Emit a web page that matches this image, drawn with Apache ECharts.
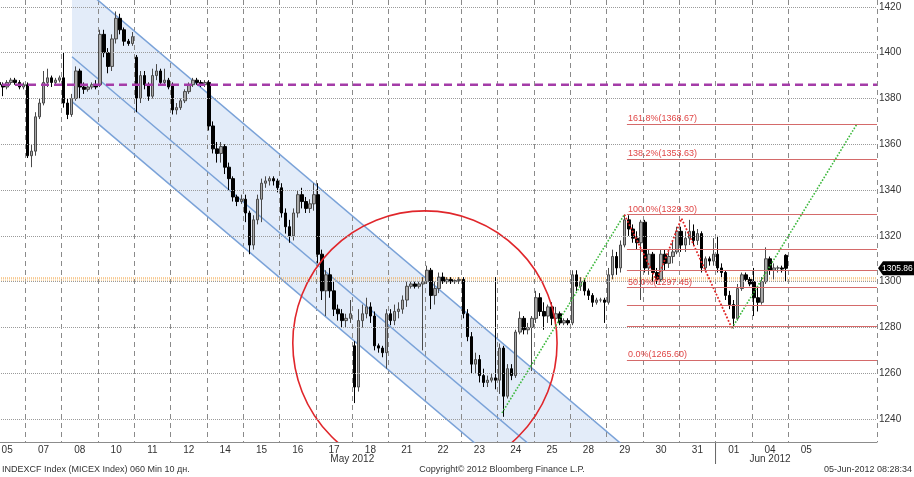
<!DOCTYPE html>
<html><head><meta charset="utf-8">
<script src="https://cdn.jsdelivr.net/npm/echarts/dist/echarts.min.js"></script>
<style>html,body{margin:0;padding:0;background:#fff}#c{width:914px;height:477px}</style>
</head><body><div id="c"></div>
<script>
// ---------- DATA ----------
const dayLabels = ['05','07','08','10','11','12','14','15','16','17','18','21','22','23','24','25','28','29','30','31','01','04','05'];
const barsPerDay = 9;
const totalSlots = 220;
// hourly bars: [open, close, low, high]
const bars = [
 // May 05
 [1387,1386,1385,1388],[1386,1387,1385,1388],[1387,1386,1385,1388],[1386,1385,1381,1387],[1385,1387,1384,1388],[1387,1388,1386,1389],[1388,1387,1386,1389],[1387,1385,1384,1388],[1385,1386,1384,1387],
 // May 07
 [1386,1355,1354,1387],[1355,1357,1350,1360],[1357,1372,1355,1374],[1372,1378,1371,1380],[1378,1387,1377,1392],[1387,1389,1385,1393],[1389,1387,1385,1390],[1387,1388,1386,1389],[1388,1389,1387,1390],
 // May 08
 [1389,1378,1376,1400],[1378,1373,1371,1380],[1373,1380,1372,1382],[1380,1392,1379,1394],[1392,1385,1380,1393],[1385,1384,1382,1387],[1384,1385,1383,1386],[1385,1386,1384,1387],[1386,1385,1384,1388],
 // May 10
 [1386,1408,1385,1410],[1408,1400,1398,1410],[1400,1394,1391,1402],[1394,1406,1392,1408],[1406,1415,1404,1418],[1415,1410,1408,1417],[1410,1405,1403,1411],[1405,1404,1403,1406],[1404,1407,1403,1409],
 // May 11
 [1398,1380,1374,1399],[1380,1390,1378,1392],[1390,1386,1384,1392],[1386,1381,1379,1387],[1381,1390,1380,1393],[1390,1392,1388,1395],[1392,1387,1386,1393],[1387,1388,1386,1393],[1388,1385,1384,1389],
 // May 12
 [1386,1375,1373,1387],[1375,1376,1373,1378],[1376,1379,1375,1380],[1379,1383,1378,1384],[1383,1386,1382,1387],[1386,1388,1385,1389],[1388,1387,1386,1389],[1387,1386,1385,1388],[1386,1387,1385,1388],
 // May 14
 [1387,1368,1366,1388],[1368,1358,1356,1370],[1358,1356,1352,1361],[1356,1359,1352,1361],[1359,1350,1347,1360],[1350,1345,1340,1352],[1345,1337,1335,1346],[1337,1335,1333,1338],[1335,1336,1334,1338],
 // May 15
 [1336,1330,1326,1338],[1330,1316,1312,1331],[1316,1327,1314,1329],[1327,1336,1325,1338],[1336,1343,1326,1345],[1343,1344,1341,1346],[1344,1345,1342,1346],[1345,1344,1342,1346],[1344,1341,1339,1345],
 // May 16
 [1341,1330,1328,1343],[1330,1324,1321,1332],[1324,1320,1317,1327],[1320,1330,1318,1332],[1330,1338,1328,1340],[1338,1335,1332,1341],[1335,1332,1330,1337],[1332,1334,1330,1336],[1334,1338,1331,1343],
 // May 17
 [1338,1312,1308,1343],[1312,1296,1292,1314],[1296,1303,1285,1305],[1303,1296,1293,1306],[1296,1288,1285,1300],[1288,1286,1283,1290],[1286,1283,1280,1288],[1283,1284,1280,1286],[1284,1286,1282,1292],
 // May 18
 [1272,1254,1247,1274],[1254,1283,1252,1288],[1283,1286,1280,1290],[1286,1289,1284,1293],[1289,1285,1282,1291],[1285,1272,1270,1287],[1272,1271,1269,1273],[1271,1269,1267,1272],[1269,1286,1262,1288],
 // May 21
 [1286,1283,1281,1288],[1283,1287,1281,1290],[1287,1288,1284,1291],[1288,1292,1286,1294],[1292,1298,1289,1300],[1298,1299,1297,1300],[1299,1298,1297,1300],[1298,1299,1297,1300],[1299,1300,1270,1302],
 // May 22
 [1300,1305,1299,1307],[1305,1294,1288,1306],[1294,1297,1290,1300],[1297,1302,1295,1304],[1302,1300,1299,1304],[1300,1301,1299,1302],[1301,1300,1299,1302],[1300,1300.5,1299,1301],[1300.5,1301,1299,1302],
 // May 23
 [1301,1286,1284,1302],[1286,1276,1274,1288],[1276,1264,1260,1278],[1264,1266,1260,1269],[1266,1259,1256,1268],[1259,1256,1254,1262],[1256,1257,1254,1259],[1257,1258,1256,1260],[1258,1257,1253,1302],
 // May 24
 [1257,1271,1251,1273],[1271,1250,1241,1272],[1250,1262,1249,1264],[1262,1259,1257,1264],[1259,1278,1258,1279],[1278,1284,1277,1287],[1284,1279,1277,1285],[1279,1280,1277,1282],[1280,1284,1261,1285],
 // May 25
 [1284,1293,1282,1296],[1293,1287,1285,1295],[1287,1285,1279,1291],[1285,1289,1282,1290],[1289,1284,1281,1291],[1284,1286,1282,1289],[1286,1282,1281,1287],[1282,1283,1281,1284],[1283,1282,1281,1284],
 // May 28
 [1282,1303,1281,1305],[1303,1298,1296,1305],[1298,1300,1296,1302],[1300,1296,1294,1301],[1296,1294,1292,1297],[1294,1291,1289,1295],[1291,1292,1290,1293],[1292,1292,1291,1293],[1292,1291,1282,1293],
 // May 29
 [1291,1303,1290,1306],[1303,1311,1301,1314],[1311,1306,1303,1313],[1306,1316,1304,1318],[1316,1327,1315,1329.3],[1327,1323,1320,1329],[1323,1319,1317,1325],[1319,1317,1314,1322],[1317,1326,1292,1327],
 // May 30
 [1326,1306,1304,1327],[1306,1312,1303,1314],[1312,1304,1300,1313],[1304,1301,1299,1306],[1301,1312,1300,1314],[1312,1308,1305,1314],[1308,1311,1306,1313],[1311,1313,1308,1318],[1313,1322,1312,1324],
 // May 31
 [1322,1316,1313,1324],[1316,1319,1313,1322],[1319,1322,1316,1327],[1322,1318,1316,1325],[1318,1321,1316,1323],[1321,1306,1304,1322],[1306,1310,1305,1311],[1310,1309,1307,1311],[1309,1312,1307,1319],
 // Jun 01
 [1312,1306,1304,1320],[1306,1304,1302,1308],[1304,1294,1292,1305],[1294,1290,1288,1296],[1290,1284,1279.6,1292],[1284,1297,1283,1299],[1297,1303,1296,1304],[1303,1301,1300,1304],[1301,1299,1298,1302],
 // Jun 04
 [1300,1293,1285,1306],[1293,1291,1287,1298],[1291,1300,1290,1302],[1300,1310,1299,1315],[1310,1305,1303,1311],[1305,1306,1301,1308],[1306,1306,1304,1307],[1306,1305.5,1304,1307],[1311.5,1305.86,1300,1312]
];
const priceTicks = [1240,1260,1280,1300,1320,1340,1360,1380,1400,1420];
const lastPrice = 1305.86;
const purpleLevel = 1386;
const orangeLevels = [1301.6, 1300.7];
const fibPercents = [0, 23.6, 38.2, 50, 61.8, 76.4, 100, 138.2, 161.8];
const fibValues   = [1265.60, 1280.63, 1289.93, 1297.45, 1304.97, 1314.27, 1329.30, 1353.63, 1368.67];
const fibLabeled  = [true, false, false, true, false, false, true, true, true];
const fibStartDay = 17.56;
// annotation geometry in (day, price)
const channelUpper  = [[2.285, 1432.5], [19.5, 1201.0]];
const channelMiddle = [[2.285, 1398.2], [19.5, 1166.7]];
const channelLower  = [[2.285, 1378.6], [19.5, 1147.1]];
const circleDef = [12.0, 1273.2, 1330.9]; // center day, center price, top price
const greenLine1 = [[14.12, 1242.7], [17.49, 1329.3]];
const greenLine2 = [[20.45, 1279.7], [23.885, 1368.67]];
const redZigzag  = [[17.49, 1329.3], [18.375, 1300.5], [19.063, 1327.6], [20.45, 1279.7]];
const monthLabels = [['May 2012', 10.0], ['Jun 2012', 21.5]];
const monthSeparatorDay = 20;

// ---------- CHART ----------
const FONT = '"Liberation Sans", Arial, sans-serif';
const DAYMAX = totalSlots / barsPerDay;
const nLabeled = dayLabels.length * barsPerDay;
const categories = [];
for (let i = 0; i < totalSlots; i++) categories.push('D' + Math.floor(i / barsPerDay) + 'H' + (i % barsPerDay));

const chart = echarts.init(document.getElementById('c'));

function lineSeries(data, color, width, type, z) {
  return {type: 'line', xAxisIndex: 1, data: data, symbol: 'none', silent: true, z: z,
          lineStyle: {color: color, width: width, type: type}, animation: false};
}

const series = [];
// channel fill
series.push({
  type: 'custom', xAxisIndex: 1, z: 1, clip: true, silent: true,
  data: [[channelUpper[0][0], channelUpper[0][1]]],
  renderItem: function (p, api) {
    const pts = [channelUpper[0], channelUpper[1], channelLower[1], channelLower[0]].map(q => api.coord(q));
    return {type: 'polygon', shape: {points: pts}, style: {fill: '#e3ecf9'}};
  }
});
// horizontal dotted grid
series.push({
  type: 'line', xAxisIndex: 1, data: [], z: 1.6, silent: true,
  markLine: {silent: true, symbol: ['none', 'none'], label: {show: false}, animation: false,
    lineStyle: {type: 'dotted', color: '#9a9a9a', width: 1},
    data: priceTicks.map(v => ({yAxis: v}))}
});
// channel lines
[channelUpper, channelMiddle, channelLower].forEach(l => series.push(lineSeries(l, '#7aa2d8', 1.5, 'solid', 2)));
// fib lines
series.push({
  type: 'line', xAxisIndex: 1, data: [], z: 2, silent: true,
  markLine: {silent: true, symbol: ['none', 'none'], animation: false,
    lineStyle: {type: 'solid', color: '#d46a6a', width: 1},
    data: fibValues.map((v, i) => [
      {coord: [fibStartDay, v], label: {show: fibLabeled[i], position: 'insideStartTop', distance: 1,
        formatter: fibPercents[i].toFixed(1) + '%(' + v.toFixed(2) + ')',
        color: '#e04848', fontSize: 9, fontFamily: FONT}},
      {coord: [DAYMAX, v]}
    ])}
});
// orange dotted
orangeLevels.forEach((v, i) => series.push(lineSeries([[0, v], [DAYMAX, v]], i ? '#f6c27a' : '#f0962a', 1, 'dotted', 2)));
// candles
series.push({
  type: 'candlestick', xAxisIndex: 0, z: 3, barWidth: 3, silent: true,
  data: bars,
  itemStyle: {color: '#a9a9a9', color0: '#000000', borderColor: '#4a4a4a', borderColor0: '#000000', borderWidth: 1}
});
// circle
series.push({
  type: 'custom', xAxisIndex: 1, z: 4, clip: true, silent: true,
  data: [circleDef],
  renderItem: function (p, api) {
    const c = api.coord([api.value(0), api.value(1)]);
    const t = api.coord([api.value(0), api.value(2)]);
    return {type: 'circle', shape: {cx: c[0], cy: c[1], r: c[1] - t[1]}, style: {fill: 'none', stroke: '#e0262b', lineWidth: 1.6}};
  }
});
// green & red dotted
series.push(lineSeries(greenLine1, '#3cb83c', 1.6, 'dotted', 4));
series.push(lineSeries(greenLine2, '#3cb83c', 1.6, 'dotted', 4));
series.push(lineSeries(redZigzag, '#e02424', 1.8, 'dotted', 4));
// purple dashed
series.push(lineSeries([[0, purpleLevel], [DAYMAX, purpleLevel]], '#a43ca8', 2.5, [8, 5], 4));
// last price tag
series.push({
  type: 'custom', xAxisIndex: 1, z: 6, clip: false, silent: true,
  data: [[DAYMAX, lastPrice]],
  renderItem: function (p, api) {
    const q = api.coord([api.value(0), api.value(1)]);
    const x0 = q[0] + 1, y = q[1], W = api.getWidth();
    return {type: 'group', children: [
      {type: 'polygon', shape: {points: [[x0, y], [x0 + 5, y - 7], [W, y - 7], [W, y + 7], [x0 + 5, y + 7]]}, style: {fill: '#000'}},
      {type: 'text', style: {text: lastPrice.toFixed(2), x: x0 + 4, y: y, fill: '#fff', font: '8.5px ' + FONT,
        align: 'left', verticalAlign: 'middle', textAlign: 'left', textVerticalAlign: 'middle'}}
    ]};
  }
});

chart.setOption({
  backgroundColor: '#ffffff',
  animation: false,
  grid: {left: -11, right: 37, top: 0, bottom: 35, containLabel: false, outerBoundsMode: 'none'},
  xAxis: [
    {type: 'category', data: categories, boundaryGap: true, z: 1.5,
     axisLine: {lineStyle: {color: '#8c8c8c', width: 1}},
     axisTick: {show: false},
     axisLabel: {interval: (i) => i % barsPerDay === 4 && i < nLabeled,
       formatter: (v, i) => dayLabels[Math.floor(i / barsPerDay)] || '',
       color: '#333', fontSize: 10, fontFamily: FONT, margin: 3},
     splitLine: {show: true, interval: (i) => i % barsPerDay === 0 && i < nLabeled,
       lineStyle: {color: '#8a8a8a', type: [5, 4], width: 1}}},
    {type: 'value', min: 0, max: DAYMAX, show: false}
  ],
  yAxis: {type: 'value', position: 'right', min: 1230, max: 1423, interval: 10,
    axisLine: {show: true, lineStyle: {color: '#555'}},
    axisTick: {show: true, length: 4, lineStyle: {color: '#555'}},
    axisLabel: {formatter: v => (v % 20 === 0 ? String(v) : ''), color: '#333', fontSize: 10, fontFamily: FONT, margin: 2},
    splitLine: {show: false}},
  series: series
});

// axis decorations computed from the chart scales
const sepX = chart.convertToPixel({xAxisIndex: 1}, monthSeparatorDay);
const axisY = chart.convertToPixel({yAxisIndex: 0}, 1230);
const graphics = [
  {type: 'line', shape: {x1: sepX, y1: axisY, x2: sepX, y2: axisY + 22}, style: {stroke: '#666', lineWidth: 1}},
  {type: 'text', x: 2, y: 470, style: {text: 'INDEXCF Index (MICEX Index) 060 Min 10 дн.', fill: '#333', font: '9px ' + FONT, textAlign: 'left', textVerticalAlign: 'middle', align: 'left', verticalAlign: 'middle'}},
  {type: 'text', x: 502, y: 470, style: {text: 'Copyright\u00a9 2012 Bloomberg Finance L.P.', fill: '#333', font: '9px ' + FONT, textAlign: 'center', textVerticalAlign: 'middle', align: 'center', verticalAlign: 'middle'}},
  {type: 'text', x: 912, y: 470, style: {text: '05-Jun-2012 08:28:34', fill: '#333', font: '9px ' + FONT, textAlign: 'right', textVerticalAlign: 'middle', align: 'right', verticalAlign: 'middle'}}
];
monthLabels.forEach(m => {
  graphics.push({type: 'text', x: chart.convertToPixel({xAxisIndex: 1}, m[1]), y: axisY + 17,
    style: {text: m[0], fill: '#333', font: '10px ' + FONT, textAlign: 'center', textVerticalAlign: 'middle', align: 'center', verticalAlign: 'middle'}});
});
chart.setOption({graphic: graphics});
</script>
</body></html>
